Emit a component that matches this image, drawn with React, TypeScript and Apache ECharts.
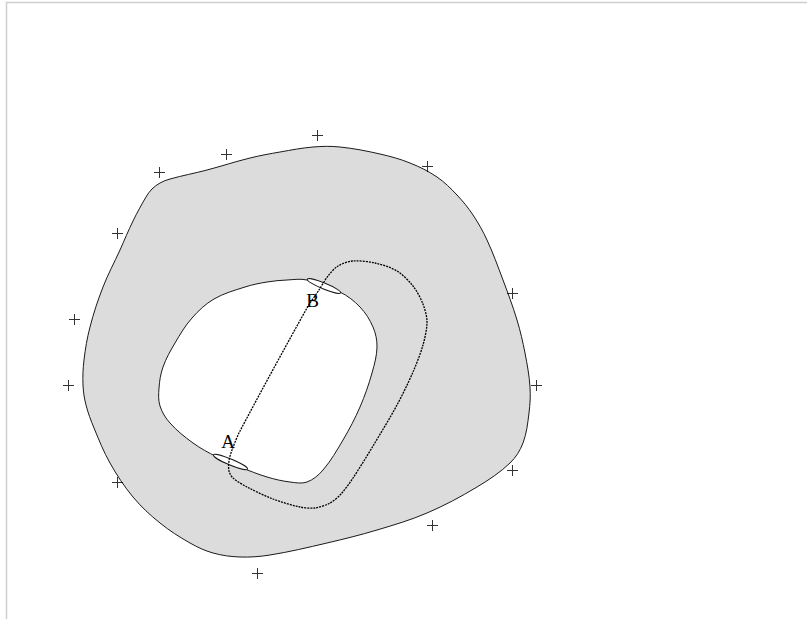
import React, { useEffect, useRef } from "react";
import * as echarts from "echarts";

// Outer boundary of the shaded region (x, y in drawing units, y downward)
const outerContour: number[][] = [
  [170, 179], [160, 183], [152, 189], [146, 197], [133, 221], [120, 250],
  [103, 287], [90, 327], [84, 360], [83, 385], [86, 405], [94, 428],
  [110, 463], [133, 497], [160, 523], [190, 543], [213, 553], [240, 557],
  [270, 555], [327, 543], [377, 530], [427, 513], [477, 487], [510, 463],
  [523, 443], [529, 413], [530, 387], [525, 353], [517, 320], [503, 280],
  [487, 240], [473, 215], [457, 195], [437, 177], [410, 163], [380, 154],
  [340, 147], [313, 147], [280, 152], [250, 158], [207, 170],
];

// Inner boundary (the hole)
const innerContour: number[][] = [
  [287, 280], [307, 280], [340, 292], [360, 307], [373, 327], [377, 347],
  [372, 373], [360, 407], [343, 440], [323, 470], [307, 482], [290, 482],
  [267, 477], [240, 467], [217, 457], [193, 443], [170, 423], [160, 406],
  [159, 388], [163, 367], [175, 343], [192, 318], [214, 299], [245, 287],
  [267, 282],
];

// Closed dotted loop through A and B
const loopPath: number[][] = [
  [229, 461], [229, 471], [233, 478], [247, 487], [273, 499], [300, 507],
  [315, 508], [330, 503], [341, 494], [353, 478], [373, 446], [397, 405],
  [413, 372], [423, 345], [427, 322], [423, 304], [413, 286], [397, 271],
  [375, 263], [353, 261], [338, 266], [328, 276], [319, 290], [307, 308],
  [240, 431], [232, 450],
];

// Small ellipses at A and B: [cx, cy, half-length, half-width, angle deg]
const ellipses: number[][] = [
  [230.5, 462, 18.5, 3, 22.8],
  [324, 286, 18, 3, 22],
];

// Point labels
const labelNames = ["A", "B"];
const labelPoints: number[][] = [[228, 441], [312.5, 300]];

// "+" markers around the region
const markerPoints: number[][] = [
  [317, 135], [226, 154], [159, 172], [427, 166], [117, 233], [74, 319],
  [68, 385], [512, 293], [536, 385], [512, 470], [117, 482], [432, 525],
  [257, 573],
];

const PLUS = "path://M5,0h1v5h5v1h-5v5h-1v-5h-5v-1h5z";

export default function App() {
  const ref = useRef<HTMLDivElement>(null);

  useEffect(() => {
    if (!ref.current) return;
    const chart = echarts.init(ref.current, undefined, { renderer: "svg" });

    const polyRender = (pts: number[][], style: any, smooth: number) =>
      (_params: any, api: any) => ({
        type: "polygon",
        shape: { points: pts.map((p) => api.coord(p)), smooth },
        style,
      });

    chart.setOption({
      animation: false,
      backgroundColor: "#ffffff",
      grid: { left: 0, right: 0, top: 0, bottom: 0 },
      xAxis: { type: "value", min: 0, max: 807, show: false },
      yAxis: { type: "value", min: 0, max: 619, inverse: true, show: false },
      graphic: [
        {
          type: "rect",
          shape: { x: 6.5, y: 2.5, width: 820, height: 700 },
          style: { fill: "none", stroke: "#cfcfcf", lineWidth: 1.5 },
          silent: true,
        },
      ],
      series: [
        {
          type: "custom",
          name: "outer",
          data: [[0, 0]],
          clip: false,
          silent: true,
          renderItem: polyRender(
            outerContour,
            { fill: "#dcdcdc", stroke: "#1a1a1a", lineWidth: 1 },
            0.35
          ),
          z: 1,
        },
        {
          type: "custom",
          name: "inner",
          data: [[0, 0]],
          clip: false,
          silent: true,
          renderItem: polyRender(
            innerContour,
            { fill: "#ffffff", stroke: "#1a1a1a", lineWidth: 1 },
            0.35
          ),
          z: 2,
        },
        {
          type: "custom",
          name: "ellipses",
          data: ellipses.map((e) => [e[0], e[1]]),
          clip: false,
          silent: true,
          renderItem: (params: any, api: any) => {
            const e = ellipses[params.dataIndex];
            const c = api.coord([e[0], e[1]]);
            return {
              type: "ellipse",
              x: c[0],
              y: c[1],
              rotation: (-e[4] * Math.PI) / 180,
              shape: { cx: 0, cy: 0, rx: e[2], ry: e[3] },
              style: { fill: "#ffffff", stroke: "#1a1a1a", lineWidth: 1 },
            };
          },
          z: 3,
        },
        {
          type: "custom",
          name: "loop",
          data: [[0, 0]],
          clip: false,
          silent: true,
          renderItem: polyRender(
            loopPath,
            { fill: "none", stroke: "#000000", lineWidth: 1.3, lineDash: [2, 1] },
            0.3
          ),
          z: 4,
        },
        {
          type: "custom",
          name: "labels",
          data: labelPoints,
          clip: false,
          silent: true,
          renderItem: (params: any, api: any) => {
            const p = labelPoints[params.dataIndex];
            const c = api.coord(p);
            return {
              type: "text",
              x: c[0],
              y: c[1],
              style: {
                text: labelNames[params.dataIndex],
                fill: "#000000",
                font: "19px 'Liberation Serif', 'DejaVu Serif', serif",
                align: "center",
                verticalAlign: "middle",
              },
            };
          },
          z: 5,
        },
        {
          type: "scatter",
          name: "markers",
          data: markerPoints,
          symbol: PLUS,
          symbolSize: 11,
          symbolOffset: [0.5, 0.5],
          itemStyle: { color: "#000000" },
          silent: true,
          z: 6,
        },
      ],
    });

    return () => chart.dispose();
  }, []);

  return (
    <div
      ref={ref}
      style={{ position: "absolute", left: 0, top: 0, width: 807, height: 619 }}
    />
  );
}
